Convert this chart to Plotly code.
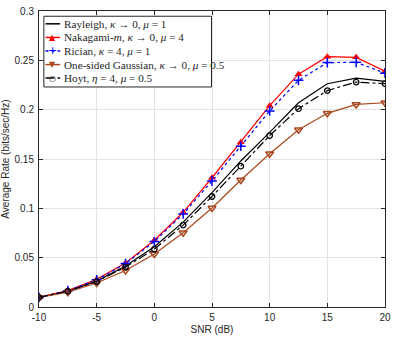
import plotly.graph_objects as go

snr = [-10, -7.5, -5, -2.5, 0, 2.5, 5, 7.5, 10, 12.5, 15, 17.5, 20]
rayleigh = [0.0097, 0.0163, 0.0262, 0.0415, 0.0610, 0.0860, 0.1160, 0.1480, 0.1770, 0.2070, 0.2263, 0.2320, 0.2287]
nakagami = [0.0097, 0.0167, 0.0280, 0.0447, 0.0677, 0.0960, 0.1310, 0.1670, 0.2040, 0.2360, 0.2537, 0.2530, 0.2390]
rician = [0.0097, 0.0165, 0.0275, 0.0440, 0.0663, 0.0943, 0.1277, 0.1630, 0.1987, 0.2297, 0.2477, 0.2480, 0.2370]
osg = [0.0097, 0.0150, 0.0243, 0.0370, 0.0537, 0.0753, 0.1003, 0.1287, 0.1553, 0.1797, 0.1963, 0.2053, 0.2070]
hoyt = [0.0097, 0.0160, 0.0258, 0.0405, 0.0587, 0.0830, 0.1120, 0.1427, 0.1737, 0.2010, 0.2193, 0.2280, 0.2263]

names = [
    "Rayleigh, <i>κ</i> → 0, <i>μ</i> = 1",
    "Nakagami-<i>m</i>, <i>κ</i> → 0, <i>μ</i> = 4",
    "Rician, <i>κ</i> = 4, <i>μ</i> = 1",
    "One-sided Gaussian, <i>κ</i> → 0, <i>μ</i> = 0.5",
    "Hoyt, <i>η</i> = 4, <i>μ</i> = 0.5",
]
colors = ["black", "#FF0000", "#0000FF", "#A8481C", "black"]
dashes = ["solid", "solid", "dot", "solid", "dashdot"]
legend_glyphs = ["", "▲", "+", "▼", "○"]

fig = go.Figure()
fig.add_trace(go.Scatter(x=snr, y=rayleigh, name=names[0], mode="lines",
                         line=dict(color=colors[0], width=1.2)))
fig.add_trace(go.Scatter(x=snr, y=nakagami, name=names[1], mode="lines+markers",
                         line=dict(color=colors[1], width=1.2),
                         marker=dict(symbol="triangle-up", size=7, color=colors[1])))
fig.add_trace(go.Scatter(x=snr, y=rician, name=names[2], mode="lines+markers",
                         line=dict(color=colors[2], width=1.2, dash="dot"),
                         marker=dict(symbol="cross-thin", size=7, line=dict(color=colors[2], width=1.5))))
fig.add_trace(go.Scatter(x=snr, y=osg, name=names[3], mode="lines+markers",
                         line=dict(color=colors[3], width=1.2),
                         marker=dict(symbol="triangle-down-open", size=7, color=colors[3], line=dict(width=1.5))))
fig.add_trace(go.Scatter(x=snr, y=hoyt, name=names[4], mode="lines+markers",
                         line=dict(color=colors[4], width=1.2, dash="dashdot"),
                         marker=dict(symbol="circle-open", size=5.5, color=colors[4], line=dict(width=1.3))))

axis_common = dict(
    showgrid=True, gridcolor="#E3E3E3", gridwidth=1,
    showline=True, linecolor="#262626", linewidth=1, mirror="ticks",
    ticks="inside", ticklen=4, tickcolor="#262626",
    tickfont=dict(family="Liberation Sans, Arial", size=10, color="#262626"),
    zeroline=False,
)

# custom legend (compact, MATLAB-like), in paper coordinates
shapes = [dict(type="rect", xref="paper", yref="paper", x0=0.014, x1=0.4986,
               y0=0.7433, y1=0.9823, line=dict(color="#262626", width=1),
               fillcolor="white", layer="above")]
annotations = []
row_y = [0.9567, 0.9107, 0.865, 0.819, 0.7733]
for i in range(5):
    shapes.append(dict(type="line", xref="paper", yref="paper", x0=0.0188, x1=0.061,
                       y0=row_y[i], y1=row_y[i], layer="above",
                       line=dict(color=colors[i], width=1.5, dash=dashes[i])))
    if legend_glyphs[i]:
        annotations.append(dict(xref="paper", yref="paper", x=0.040, y=row_y[i],
                                text=legend_glyphs[i], showarrow=False,
                                xanchor="center", yanchor="middle",
                                font=dict(family="DejaVu Sans", size=8 if i != 2 else 11,
                                          color=colors[i]), bgcolor="rgba(0,0,0,0)"))
    annotations.append(dict(xref="paper", yref="paper", x=0.0654, y=row_y[i],
                            text=names[i], showarrow=False, xanchor="left", yanchor="middle",
                            font=dict(family="Liberation Serif, DejaVu Serif", size=11.2,
                                      color="#262626")))

fig.update_layout(
    width=396, height=338,
    margin=dict(l=35, r=5, t=7, b=31),
    paper_bgcolor="white", plot_bgcolor="white",
    showlegend=False,
    shapes=shapes, annotations=annotations,
    xaxis=dict(range=[-10, 20], tickvals=[-10, -5, 0, 5, 10, 15, 20],
               ticktext=["-10", "-5", "0", "5", "10", "15", "20"],
               ticklabelstandoff=1,
               title=dict(text="SNR (dB)", standoff=3,
                          font=dict(family="Liberation Sans, Arial", size=10, color="#262626")),
               **axis_common),
    yaxis=dict(range=[0, 0.3], tickvals=[0, 0.05, 0.1, 0.15, 0.2, 0.25, 0.3],
               ticktext=["0", "0.05", "0.1", "0.15", "0.2", "0.25", "0.3"],
               ticklabelstandoff=2,
               title=dict(text="Average Rate (bits/sec/Hz)", standoff=3,
                          font=dict(family="Liberation Sans, Arial", size=10, color="#262626")),
               **axis_common),
)

fig.write_html("out.html", config={"displayModeBar": False},
               post_script="document.body.style.margin='0';")
